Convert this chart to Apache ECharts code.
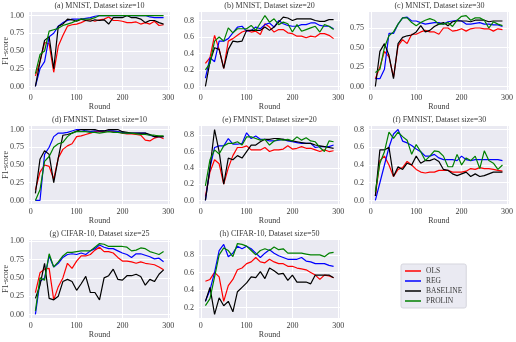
<!DOCTYPE html>
<html>
<head>
<meta charset="utf-8">
<script src="https://cdn.jsdelivr.net/npm/echarts@6/dist/echarts.min.js"></script>
<style>
html, body { margin: 0; padding: 0; background: #fff; }
#chart { width: 516px; height: 342px; }
</style>
</head>
<body>
<div id="chart"></div>
<script>
// communication rounds (x values, shared by every panel)
const rounds = [10, 20, 30, 40, 50, 60, 70, 80, 90, 100, 110, 120, 130, 140, 150,
  160, 170, 180, 190, 200, 210, 220, 230, 240, 250, 260, 270, 280, 290];
const xTicks = [0, 100, 200, 300];
const methods = ['OLS', 'REG', 'BASELINE', 'PROLIN'];

// (a) MNIST, size 10
const olsA = [0.15, 0.35, 0.62, 0.60, 0.20, 0.57, 0.72, 0.85, 0.87, 0.88, 0.90, 0.93, 0.94, 0.92, 0.94, 0.95, 0.98, 0.93, 0.93, 0.92, 0.90, 0.90, 0.91, 0.88, 0.90, 0.88, 0.92, 0.86, 0.87];
const regA = [0.00, 0.25, 0.35, 0.70, 0.75, 0.85, 0.90, 0.93, 0.95, 0.95, 0.95, 0.96, 0.97, 0.99, 1.00, 1.00, 1.00, 1.00, 1.00, 1.00, 1.00, 1.00, 1.00, 1.00, 1.00, 0.98, 0.97, 0.97, 0.97];
const baseA = [0.00, 0.35, 0.65, 0.70, 0.25, 0.85, 0.88, 0.95, 0.94, 0.92, 0.95, 0.93, 0.92, 0.94, 0.93, 0.94, 0.88, 0.97, 0.97, 0.97, 1.00, 0.97, 0.97, 0.95, 0.90, 0.93, 0.93, 0.90, 0.88];
const prolinA = [0.18, 0.45, 0.50, 0.78, 0.80, 0.82, 0.86, 0.88, 0.90, 0.93, 0.95, 0.95, 0.95, 0.97, 1.00, 1.00, 1.00, 1.00, 1.00, 1.00, 1.00, 1.00, 1.00, 1.00, 1.00, 1.00, 1.00, 1.00, 1.00];

// (b) MNIST, size 20
const olsB = [0.28, 0.35, 0.62, 0.45, 0.22, 0.55, 0.58, 0.62, 0.66, 0.68, 0.66, 0.67, 0.63, 0.76, 0.72, 0.66, 0.69, 0.69, 0.65, 0.64, 0.61, 0.61, 0.59, 0.61, 0.60, 0.64, 0.64, 0.62, 0.58];
const regB = [0.10, 0.35, 0.30, 0.55, 0.55, 0.58, 0.65, 0.72, 0.73, 0.67, 0.68, 0.72, 0.70, 0.75, 0.77, 0.72, 0.80, 0.76, 0.74, 0.73, 0.73, 0.75, 0.75, 0.77, 0.77, 0.74, 0.73, 0.73, 0.70];
const baseB = [0.00, 0.30, 0.47, 0.45, 0.22, 0.45, 0.55, 0.54, 0.55, 0.68, 0.68, 0.68, 0.68, 0.72, 0.68, 0.72, 0.78, 0.84, 0.83, 0.80, 0.82, 0.82, 0.82, 0.82, 0.80, 0.79, 0.79, 0.81, 0.81];
const prolinB = [0.20, 0.28, 0.55, 0.60, 0.55, 0.71, 0.65, 0.70, 0.70, 0.70, 0.74, 0.68, 0.77, 0.86, 0.78, 0.82, 0.75, 0.78, 0.76, 0.66, 0.75, 0.67, 0.69, 0.71, 0.73, 0.66, 0.75, 0.73, 0.69];

// (c) MNIST, size 30
const olsC = [0.10, 0.25, 0.45, 0.38, 0.12, 0.52, 0.60, 0.55, 0.67, 0.67, 0.70, 0.72, 0.70, 0.70, 0.67, 0.75, 0.75, 0.71, 0.72, 0.74, 0.71, 0.74, 0.75, 0.75, 0.74, 0.74, 0.71, 0.74, 0.73];
const regC = [0.10, 0.10, 0.22, 0.68, 0.68, 0.80, 0.88, 0.89, 0.84, 0.84, 0.82, 0.80, 0.81, 0.82, 0.82, 0.80, 0.83, 0.84, 0.85, 0.84, 0.80, 0.80, 0.81, 0.82, 0.80, 0.80, 0.79, 0.79, 0.77];
const baseC = [0.00, 0.45, 0.55, 0.40, 0.10, 0.55, 0.63, 0.65, 0.66, 0.70, 0.78, 0.70, 0.72, 0.77, 0.80, 0.82, 0.78, 0.83, 0.84, 0.84, 0.84, 0.83, 0.85, 0.85, 0.85, 0.83, 0.84, 0.84, 0.84];
const prolinC = [0.18, 0.22, 0.50, 0.65, 0.70, 0.80, 0.88, 0.88, 0.82, 0.78, 0.82, 0.85, 0.87, 0.85, 0.80, 0.80, 0.82, 0.77, 0.85, 0.90, 0.91, 0.85, 0.88, 0.88, 0.85, 0.75, 0.83, 0.80, 0.78];

// (d) FMNIST, size 10
const olsD = [0.15, 0.40, 0.50, 0.48, 0.30, 0.60, 0.72, 0.77, 0.80, 0.90, 0.91, 0.93, 0.95, 0.97, 0.97, 0.97, 0.98, 0.97, 0.97, 0.95, 0.94, 0.94, 0.93, 0.92, 0.85, 0.84, 0.88, 0.90, 0.87];
const regD = [0.00, 0.00, 0.65, 0.75, 0.90, 0.95, 0.95, 0.96, 0.98, 1.00, 1.00, 0.98, 0.97, 0.98, 0.98, 0.98, 0.98, 0.98, 0.97, 0.96, 0.95, 0.95, 0.95, 0.95, 0.95, 0.92, 0.90, 0.90, 0.90];
const baseD = [0.10, 0.58, 0.70, 0.65, 0.25, 0.60, 0.92, 0.93, 0.95, 0.98, 1.00, 1.00, 1.00, 1.00, 0.98, 0.98, 1.00, 1.00, 1.00, 0.97, 0.96, 0.95, 0.95, 0.95, 0.95, 0.93, 0.90, 0.90, 0.90];
const prolinD = [0.00, 0.15, 0.55, 0.62, 0.75, 0.80, 0.82, 0.90, 0.95, 0.97, 0.97, 0.97, 0.96, 0.96, 0.95, 0.96, 0.97, 0.96, 0.96, 0.95, 0.95, 0.95, 0.94, 0.93, 0.93, 0.92, 0.92, 0.91, 0.91];

// (e) FMNIST, size 20
const olsE = [0.05, 0.35, 0.50, 0.45, 0.20, 0.40, 0.55, 0.65, 0.65, 0.67, 0.62, 0.62, 0.62, 0.65, 0.60, 0.62, 0.62, 0.63, 0.67, 0.63, 0.64, 0.66, 0.64, 0.64, 0.62, 0.60, 0.62, 0.60, 0.61];
const regE = [0.00, 0.40, 0.65, 0.67, 0.67, 0.76, 0.69, 0.69, 0.70, 0.83, 0.76, 0.79, 0.75, 0.75, 0.73, 0.73, 0.74, 0.75, 0.73, 0.72, 0.71, 0.70, 0.70, 0.70, 0.65, 0.66, 0.66, 0.66, 0.68];
const baseE = [0.00, 0.40, 0.87, 0.60, 0.20, 0.52, 0.50, 0.55, 0.52, 0.60, 0.68, 0.68, 0.72, 0.75, 0.75, 0.76, 0.76, 0.75, 0.74, 0.73, 0.72, 0.71, 0.70, 0.70, 0.68, 0.67, 0.66, 0.65, 0.64];
const prolinE = [0.18, 0.50, 0.62, 0.57, 0.67, 0.70, 0.70, 0.72, 0.68, 0.78, 0.78, 0.76, 0.74, 0.75, 0.68, 0.73, 0.75, 0.74, 0.75, 0.73, 0.78, 0.74, 0.77, 0.73, 0.72, 0.65, 0.60, 0.73, 0.72];

// (f) FMNIST, size 30
const olsF = [0.05, 0.45, 0.50, 0.40, 0.27, 0.35, 0.37, 0.44, 0.40, 0.35, 0.32, 0.31, 0.32, 0.32, 0.34, 0.34, 0.34, 0.32, 0.32, 0.32, 0.33, 0.36, 0.35, 0.37, 0.36, 0.36, 0.35, 0.34, 0.33];
const regF = [0.00, 0.20, 0.40, 0.60, 0.75, 0.80, 0.67, 0.65, 0.62, 0.58, 0.55, 0.50, 0.50, 0.52, 0.48, 0.46, 0.46, 0.46, 0.45, 0.50, 0.46, 0.45, 0.46, 0.46, 0.46, 0.46, 0.46, 0.46, 0.45];
const baseF = [0.05, 0.57, 0.57, 0.60, 0.27, 0.38, 0.35, 0.42, 0.40, 0.50, 0.42, 0.45, 0.45, 0.47, 0.44, 0.35, 0.34, 0.30, 0.28, 0.30, 0.32, 0.27, 0.30, 0.27, 0.28, 0.30, 0.32, 0.32, 0.32];
const prolinF = [0.10, 0.42, 0.55, 0.77, 0.70, 0.77, 0.72, 0.68, 0.52, 0.63, 0.55, 0.45, 0.50, 0.56, 0.55, 0.50, 0.38, 0.38, 0.52, 0.40, 0.48, 0.45, 0.50, 0.36, 0.56, 0.45, 0.42, 0.35, 0.40];

// (g) CIFAR-10, size 25
const olsG = [0.30, 0.57, 0.62, 0.63, 0.20, 0.38, 0.50, 0.70, 0.63, 0.73, 0.80, 0.80, 0.82, 0.88, 0.92, 0.86, 0.86, 0.84, 0.78, 0.73, 0.73, 0.72, 0.70, 0.72, 0.70, 0.69, 0.68, 0.65, 0.61];
const regG = [0.00, 0.45, 0.50, 0.80, 0.65, 0.70, 0.78, 0.82, 0.83, 0.82, 0.84, 0.82, 0.87, 0.90, 0.95, 0.92, 0.90, 0.90, 0.87, 0.84, 0.82, 0.78, 0.83, 0.83, 0.81, 0.79, 0.76, 0.77, 0.72];
const baseG = [0.22, 0.40, 0.70, 0.22, 0.20, 0.25, 0.45, 0.48, 0.45, 0.33, 0.42, 0.52, 0.30, 0.30, 0.20, 0.50, 0.53, 0.62, 0.48, 0.47, 0.53, 0.53, 0.55, 0.52, 0.40, 0.48, 0.45, 0.55, 0.61];
const prolinG = [0.05, 0.50, 0.47, 0.83, 0.65, 0.72, 0.80, 0.85, 0.85, 0.86, 0.87, 0.87, 0.87, 0.92, 0.97, 0.96, 0.93, 0.93, 0.93, 0.93, 0.92, 0.87, 0.88, 0.91, 0.90, 0.86, 0.84, 0.82, 0.86];

// (h) CIFAR-10, size 50
const olsH = [0.50, 0.52, 0.60, 0.55, 0.27, 0.45, 0.52, 0.63, 0.65, 0.70, 0.72, 0.77, 0.72, 0.71, 0.75, 0.72, 0.70, 0.70, 0.67, 0.67, 0.65, 0.64, 0.63, 0.60, 0.57, 0.52, 0.57, 0.56, 0.54];
const regH = [0.27, 0.40, 0.60, 0.85, 0.92, 0.78, 0.82, 0.90, 0.87, 0.90, 0.87, 0.82, 0.77, 0.82, 0.86, 0.82, 0.79, 0.77, 0.75, 0.75, 0.75, 0.77, 0.73, 0.72, 0.70, 0.70, 0.70, 0.68, 0.67];
const baseH = [0.27, 0.43, 0.12, 0.31, 0.22, 0.27, 0.15, 0.38, 0.43, 0.48, 0.55, 0.54, 0.61, 0.53, 0.65, 0.62, 0.58, 0.59, 0.51, 0.57, 0.49, 0.49, 0.49, 0.47, 0.57, 0.57, 0.57, 0.57, 0.54];
const prolinH = [0.22, 0.30, 0.55, 0.80, 0.88, 0.85, 0.78, 0.93, 0.92, 0.90, 0.85, 0.80, 0.85, 0.87, 0.85, 0.89, 0.86, 0.87, 0.82, 0.82, 0.82, 0.82, 0.81, 0.80, 0.80, 0.80, 0.78, 0.82, 0.83];

// y tick values
const ticks100 = [0, 0.25, 0.5, 0.75, 1.0];
const ticks75 = [0, 0.25, 0.5, 0.75];
const ticks80 = [0, 0.2, 0.4, 0.6, 0.8];
const ticks28 = [0.2, 0.4, 0.6, 0.8];

const panels = [
  { title: '(a) MNIST, Dataset size=10', lines: [olsA, regA, baseA, prolinA], ticks: ticks100, dec: 2 },
  { title: '(b) MNIST, Dataset size=20', lines: [olsB, regB, baseB, prolinB], ticks: ticks80, dec: 1 },
  { title: '(c) MNIST, Dataset size=30', lines: [olsC, regC, baseC, prolinC], ticks: ticks75, dec: 2 },
  { title: '(d) FMNIST, Dataset size=10', lines: [olsD, regD, baseD, prolinD], ticks: ticks100, dec: 2 },
  { title: '(e) FMNIST, Dataset size=20', lines: [olsE, regE, baseE, prolinE], ticks: ticks80, dec: 1 },
  { title: '(f) FMNIST, Dataset size=30', lines: [olsF, regF, baseF, prolinF], ticks: ticks80, dec: 1 },
  { title: '(g) CIFAR-10, Dataset size=25', lines: [olsG, regG, baseG, prolinG], ticks: ticks100, dec: 2 },
  { title: '(h) CIFAR-10, Dataset size=50', lines: [olsH, regH, baseH, prolinH], ticks: ticks28, dec: 1 }
];

const colors = ['#ff0000', '#0000ff', '#000000', '#008000'];
const font = '"Liberation Serif", "DejaVu Serif", serif';
const txt = '#3a3a3a';
const colLeft = [29, 199, 369];
const rowTop = [12, 126, 240];
const gw = 141, gh = 78;

var chartDom = document.getElementById('chart');
var myChart = echarts.init(chartDom, null, { renderer: 'canvas' });

let grids = [], xAxes = [], yAxes = [], series = [], graphics = [];

panels.forEach(function (p, i) {
  const left = colLeft[i % 3], top = rowTop[Math.floor(i / 3)];
  grids.push({ left: left, top: top, width: gw, height: gh, show: true,
    backgroundColor: '#eaeaf2', borderWidth: 0 });

  // matplotlib style 5% margins around data
  let lo = Infinity, hi = -Infinity;
  p.lines.forEach(function (arr) { arr.forEach(function (v) { lo = Math.min(lo, v); hi = Math.max(hi, v); }); });
  const pad = (hi - lo) * 0.05;

  xAxes.push({
    gridIndex: i, type: 'value', min: -4, max: 304,
    axisLine: { show: false },
    axisTick: { show: false, customValues: xTicks },
    axisLabel: { customValues: xTicks, margin: 4, fontSize: 8, color: txt, fontFamily: font },
    splitLine: { show: true, lineStyle: { color: '#ffffff', width: 1 } },
    name: 'Round', nameLocation: 'middle', nameGap: 13,
    nameTextStyle: { fontSize: 8, color: txt, fontFamily: font }
  });
  yAxes.push({
    gridIndex: i, type: 'value', min: lo - pad, max: hi + pad,
    axisLine: { show: false },
    axisTick: { show: false, customValues: p.ticks },
    axisLabel: { customValues: p.ticks, margin: 5, fontSize: 8, color: txt, fontFamily: font,
      formatter: function (v) { return v.toFixed(p.dec); } },
    splitLine: { show: true, lineStyle: { color: '#ffffff', width: 1 } }
  });

  p.lines.forEach(function (arr, k) {
    series.push({
      name: methods[k], type: 'line', xAxisIndex: i, yAxisIndex: i,
      data: rounds.map(function (r, j) { return [r, arr[j]]; }),
      showSymbol: false, symbol: 'none',
      lineStyle: { color: colors[k], width: 1.2 }, itemStyle: { color: colors[k] },
      z: 2 + k
    });
  });

  graphics.push({
    type: 'text', x: left + gw / 2, y: top - 6,
    style: { text: p.title, align: 'center', verticalAlign: 'middle',
      font: '8px ' + font, fill: txt }
  });
  if (i % 3 === 0) {
    graphics.push({
      type: 'text', x: 6, y: top + gh / 2, rotation: Math.PI / 2,
      style: { text: 'F1-score', align: 'center', verticalAlign: 'middle',
        font: '8px ' + font, fill: txt }
    });
  }
});

var option = {
  animation: false,
  grid: grids,
  xAxis: xAxes,
  yAxis: yAxes,
  series: series,
  graphic: graphics,
  legend: {
    data: methods, orient: 'vertical', left: 401, top: 264,
    icon: 'rect', itemWidth: 16, itemHeight: 1.5, itemGap: 0,
    padding: [2, 4, 2, 4],
    backgroundColor: '#eaeaf2', borderColor: '#d5d5dd', borderWidth: 1, borderRadius: 2,
    textStyle: { fontSize: 7.5, color: txt, fontFamily: font, lineHeight: 10 }
  }
};

option && myChart.setOption(option);
</script>
</body>
</html>
